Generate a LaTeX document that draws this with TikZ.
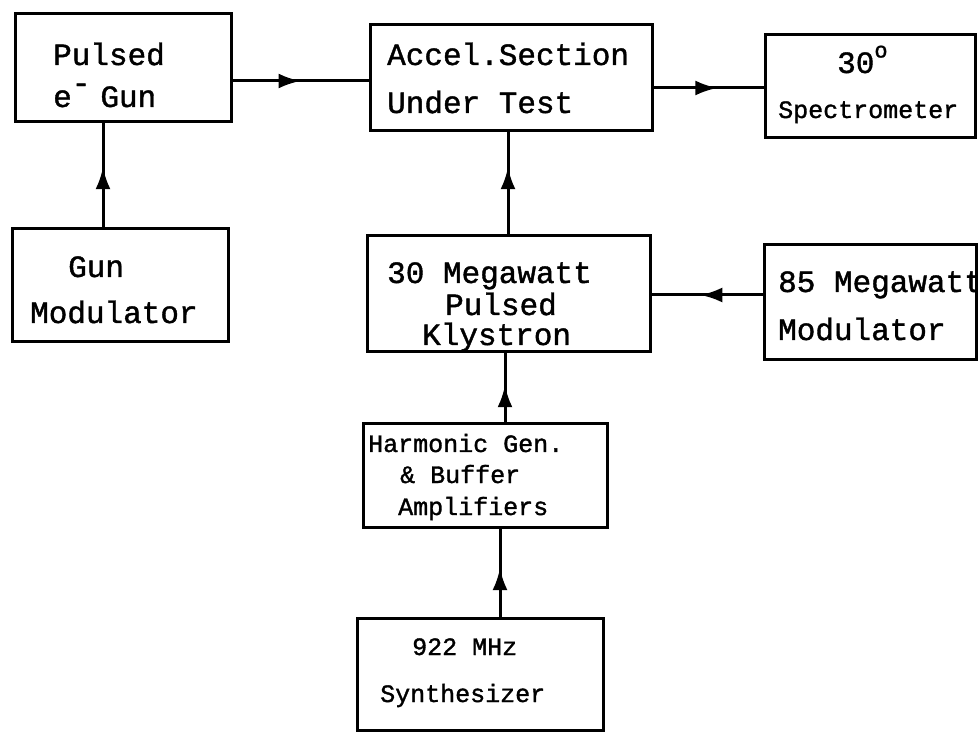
\documentclass[tikz,border=0pt]{standalone}
\usepackage{fontspec}
\setmainfont{Liberation Mono}[FakeBold=1.3]
\usetikzlibrary{arrows.meta,decorations.markings}
\tikzset{
  box/.style={draw, line width=3pt, inner sep=0pt},
  txt/.style={anchor=base west, inner sep=0pt, font=\fontsize{31}{31}\selectfont},
  stxt/.style={anchor=base west, inner sep=0pt, font=\fontsize{25}{25}\selectfont},
  flow/.style={line width=3pt, postaction={decorate},
    decoration={markings, mark=at position #1 with {\arrow{Latex[length=22pt,width=15pt]}}}},
}
\begin{document}
\begin{tikzpicture}[x=1pt,y=-1pt]
\useasboundingbox[fill=white] (0,0) rectangle (978,735);
% boxes
\node[box, minimum width=216pt, minimum height=108pt] (gun)    at (123,68)    {};
\node[box, minimum width=282pt, minimum height=106pt] (accel)  at (511,78)    {};
\node[box, minimum width=210pt, minimum height=103pt] (spec)   at (870,86.5)  {};
\node[box, minimum width=216pt, minimum height=113pt] (gunmod) at (120,285.5) {};
\node[box, minimum width=283pt, minimum height=116pt] (klys)   at (508.5,294) {};
\node[box, minimum width=212pt, minimum height=115pt] (mod85)  at (870,302.5) {};
\node[box, minimum width=244pt, minimum height=103pt] (harm)   at (485,475.5) {};
\node[box, minimum width=246pt, minimum height=112pt] (synth)  at (480,674)   {};
% texts
\node[txt] (t1) at (53,65) {Pulsed};
\node[txt] (t2) at (53,107) {e\raisebox{0.45em}{-}\hspace{10pt}Gun};
\node[txt] (t3) at (387,65) {Accel.Section};
\node[txt] (t4) at (387,113) {Under Test};
\node[txt] (t5) at (837,73) {30\raisebox{0.5em}{\fontsize{22}{22}\selectfont o}};
\node[stxt] (t6) at (778,118) {Spectrometer};
\node[txt] (t7) at (68,277) {Gun};
\node[txt] (t8) at (30,323) {Modulator};
\node[txt] (t9) at (387,283) {30 Megawatt};
\node[txt] (t10) at (445,315) {Pulsed};
\node[txt] (t11) at (422,345) {Klystron};
\node[txt] (t12) at (778,292) {85 Megawatt};
\node[txt] (t13) at (778,340) {Modulator};
\node[stxt] (t14) at (368,452) {Harmonic Gen.};
\node[stxt] (t15) at (400,483) {\& Buffer};
\node[stxt] (t16) at (398,515) {Amplifiers};
\node[stxt] (t17) at (412,655) {922 MHz};
\node[stxt] (t18) at (380,702) {Synthesizer};
% connectors
\coordinate (h1) at (0,81);
\coordinate (h2) at (0,88);
\coordinate (h3) at (0,295);
\coordinate (v1) at (103,0);
\coordinate (v2) at (508,0);
\coordinate (v3) at (505,0);
\coordinate (v4) at (500,0);
\draw[flow=0.5]  (gun.east |- h1) -- (accel.west |- h1);
\draw[flow=0.58] (accel.east |- h2) -- (spec.west |- h2);
\draw[flow=0.56] (mod85.west |- h3) -- (klys.east |- h3);
\draw[flow=0.58] (gunmod.north -| v1) -- (gun.south -| v1);
\draw[flow=0.66] (klys.north -| v2) -- (accel.south -| v2);
\draw[flow=0.54] (harm.north -| v3) -- (klys.south -| v3);
\draw[flow=0.55] (synth.north -| v4) -- (harm.south -| v4);
\end{tikzpicture}
\end{document}
